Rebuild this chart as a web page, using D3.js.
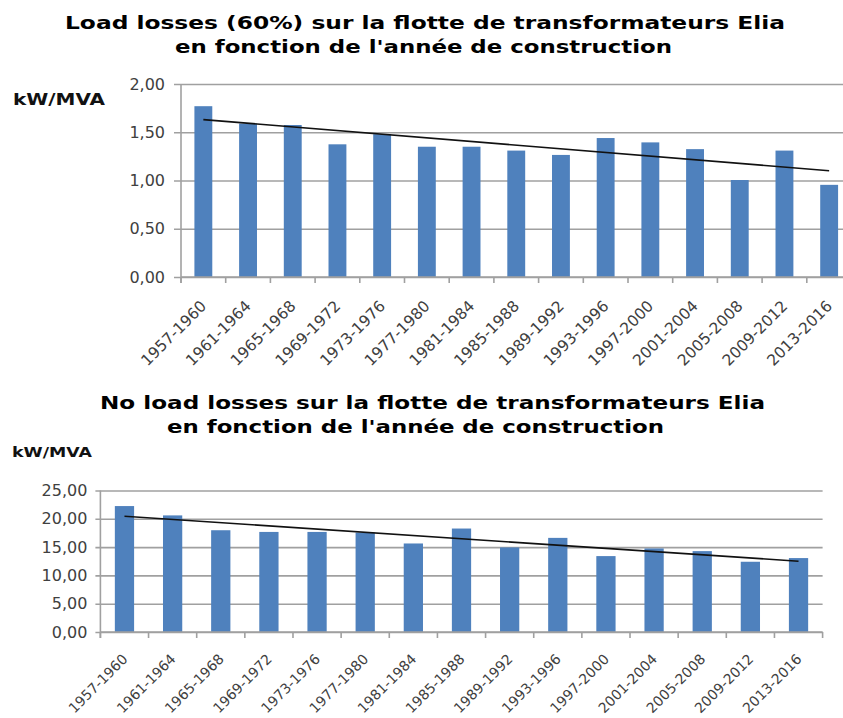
<!DOCTYPE html>
<html>
<head>
<meta charset="utf-8">
<script src="https://cdn.jsdelivr.net/npm/d3@7"></script>
<style>
  html, body { margin: 0; padding: 0; background: #fff; }
  svg { display: block; }
</style>
</head>
<body>
<svg id="chart" width="843" height="718"></svg>
<script>
const categories = ["1957-1960","1961-1964","1965-1968","1969-1972","1973-1976","1977-1980","1981-1984","1985-1988","1989-1992","1993-1996","1997-2000","2001-2004","2005-2008","2009-2012","2013-2016"];
const loadLosses = [1.77, 1.59, 1.575, 1.375, 1.48, 1.35, 1.35, 1.31, 1.265, 1.44, 1.395, 1.325, 1.005, 1.31, 0.955];
const noLoadLosses = [22.25, 20.6, 17.98, 17.68, 17.68, 17.57, 15.64, 18.28, 14.94, 16.63, 13.41, 14.76, 14.29, 12.41, 13.06];
const loadTicks = [0, 0.5, 1, 1.5, 2];
const noLoadTicks = [0, 5, 10, 15, 20, 25];
const title1 = ["Load losses (60%) sur la flotte de transformateurs Elia", "en fonction de l'année de construction"];
const title2 = ["No load losses sur la flotte de transformateurs Elia", "en fonction de l'année de construction"];
const unitLabel = "kW/MVA";

const svg = d3.select("#chart");
const fmt = v => d3.format(".2f")(v).replace(".", ",");
const BAR = "#4f81bd", GRID = "#a0a0a0", TICKTXT = "#404040";

function drawChart(cfg) {
  const g = svg.append("g");
  const x = d3.scaleBand().domain(categories).range([cfg.x0, cfg.x1]).paddingInner(0.6).paddingOuter(0.3);
  const y = d3.scaleLinear().domain([0, d3.max(cfg.ticks)]).range([cfg.y0, cfg.yTop]);

  // titles
  cfg.titles.forEach((t, i) => {
    g.append("text").attr("x", cfg.titleX[i]).attr("y", cfg.titleY[i])
      .attr("font-family", "DejaVu Sans").attr("font-weight", "bold")
      .attr("font-size", 18).attr("fill", "#000")
      .attr("textLength", cfg.titleW[i]).attr("lengthAdjust", "spacingAndGlyphs")
      .text(t);
  });
  // unit label
  g.append("text").attr("x", cfg.unit[0]).attr("y", cfg.unit[1])
    .attr("font-family", "DejaVu Sans").attr("font-weight", "bold")
    .attr("font-size", cfg.unit[2]).attr("fill", "#111")
    .attr("textLength", cfg.unit[3]).attr("lengthAdjust", "spacingAndGlyphs")
    .text(unitLabel);

  // y axis with gridlines
  const yAxis = d3.axisLeft(y).tickValues(cfg.ticks).tickFormat(fmt)
    .tickSize(-(cfg.x1 - cfg.x0)).tickSizeOuter(0).tickPadding(cfg.tickPad);
  const ya = g.append("g").attr("transform", `translate(${cfg.x0},0)`).call(yAxis);
  ya.select(".domain").remove();
  ya.selectAll(".tick line").attr("stroke", GRID).attr("stroke-width", 1.6).attr("x1", -cfg.tickLen);
  ya.selectAll(".tick text").attr("font-family", "DejaVu Sans").attr("font-size", cfg.yLblSize).attr("fill", TICKTXT);

  // y axis line
  g.append("line").attr("x1", cfg.x0).attr("x2", cfg.x0).attr("y1", y(d3.max(cfg.ticks))).attr("y2", cfg.y0 + 6)
    .attr("stroke", GRID).attr("stroke-width", 1.6);

  // bars
  g.selectAll("rect.bar").data(cfg.values).join("rect").attr("class", "bar")
    .attr("x", (d, i) => x(categories[i]))
    .attr("width", x.bandwidth())
    .attr("y", d => y(d))
    .attr("height", d => y(0) - y(d))
    .attr("fill", BAR);

  // x axis baseline + ticks at category boundaries
  const step = x.step();
  const bounds = d3.range(categories.length + 1).map(i => cfg.x0 + i * step);
  g.append("line").attr("x1", cfg.x0).attr("x2", cfg.x1).attr("y1", y(0)).attr("y2", y(0))
    .attr("stroke", GRID).attr("stroke-width", 1.6);
  g.selectAll("line.xt").data(bounds).join("line").attr("class", "xt")
    .attr("x1", d => d).attr("x2", d => d).attr("y1", y(0)).attr("y2", y(0) + 6)
    .attr("stroke", GRID).attr("stroke-width", 1.6);

  // x labels
  g.selectAll("text.xl").data(categories).join("text").attr("class", "xl")
    .attr("transform", d => `translate(${x(d) + x.bandwidth() / 2 + cfg.lblDx},${y(0) + cfg.lblDy}) rotate(-45)`)
    .attr("text-anchor", "end")
    .attr("font-family", "DejaVu Sans").attr("font-size", cfg.lblSize).attr("fill", TICKTXT)
    .text(d => d);

  // linear trend line
  const n = cfg.values.length;
  const xs = d3.range(n);
  const mx = d3.mean(xs), my = d3.mean(cfg.values);
  const slope = d3.sum(xs, i => (i - mx) * (cfg.values[i] - my)) / d3.sum(xs, i => (i - mx) * (i - mx));
  const icpt = my - slope * mx;
  const cx = i => x(categories[i]) + x.bandwidth() / 2;
  g.append("line")
    .attr("x1", cx(0)).attr("y1", y(icpt))
    .attr("x2", cx(n - 1)).attr("y2", y(icpt + slope * (n - 1)))
    .attr("stroke", "#111").attr("stroke-width", 1.6);
}

drawChart({
  values: loadLosses, ticks: loadTicks, titles: title1,
  titleX: [65, 175], titleY: [29, 53], titleW: [720, 497],
  unit: [13, 105, 16, 92],
  x0: 181, x1: 851.5, y0: 277, yTop: 84,
  tickLen: 7, tickPad: 16, yLblSize: 16, lblDx: 4, lblDy: 30, lblSize: 15.5
});

drawChart({
  values: noLoadLosses, ticks: noLoadTicks, titles: title2,
  titleX: [100, 167], titleY: [409, 433], titleW: [665, 497],
  unit: [12, 457, 14, 80],
  x0: 100.4, x1: 822.6, y0: 632, yTop: 490.5,
  tickLen: 5, tickPad: 13, yLblSize: 16, lblDx: 4, lblDy: 28, lblSize: 14
});
</script>
</body>
</html>
